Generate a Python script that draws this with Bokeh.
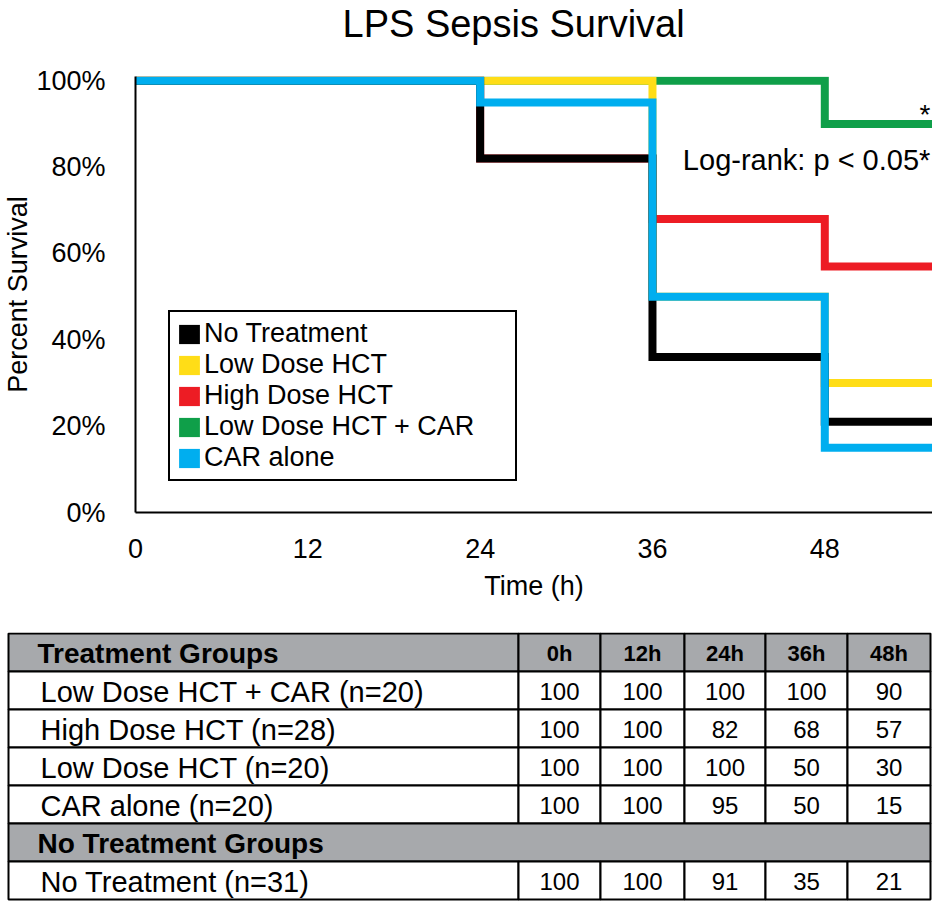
from bokeh.plotting import figure
from bokeh.models import (Legend, LegendItem, Label, PrintfTickFormatter, FixedTicker,
                          ColumnDataSource, Range1d, Title)
from bokeh.layouts import column
from bokeh.embed import file_html
from bokeh.resources import INLINE
from bokeh.core.properties import value

FONT = "Liberation Sans"

# ---------------- data ----------------
title_text = "LPS Sepsis Survival"
times = [0, 24, 36, 48, 55.5]
no_treatment = [100, 82, 36, 21, 21]
low_dose_hct = [100, 100, 50, 30, 30]
high_dose_hct = [100, 82, 68, 57, 57]
low_dose_hct_car = [100, 100, 100, 90, 90]
car_alone = [100, 95, 50, 15, 15]

legend_names = ["No Treatment", "Low Dose HCT", "High Dose HCT", "Low Dose HCT + CAR", "CAR alone"]
legend_colors = ["#000000", "#FFDD17", "#ED1C24", "#0F9F49", "#00AEEF"]

x_ticks = [0, 12, 24, 36, 48]
y_ticks = [0, 20, 40, 60, 80, 100]

table_hours = ["0h", "12h", "24h", "36h", "48h"]
treat_header = "Treatment Groups"
treat_groups = ["Low Dose HCT + CAR (n=20)", "High Dose HCT (n=28)",
                "Low Dose HCT (n=20)", "CAR alone (n=20)"]
treat_values = [[100, 100, 100, 100, 90],
                [100, 100, 82, 68, 57],
                [100, 100, 100, 50, 30],
                [100, 100, 95, 50, 15]]
untreated_header = "No Treatment Groups"
untreated_groups = ["No Treatment (n=31)"]
untreated_values = [[100, 100, 91, 35, 21]]

# ---------------- survival chart ----------------
p = figure(width=932, height=632, x_range=Range1d(0, 55.5), y_range=Range1d(0, 101),
           output_backend="svg", toolbar_location=None, frame_align=False,
           min_border_left=134, min_border_right=0, min_border_top=75, min_border_bottom=120)
p.outline_line_color = None
p.xgrid.visible = False
p.ygrid.visible = False

# main title (outermost) plus a blank spacer title between it and the frame
p.title.text = title_text
p.title.text_font = FONT
p.title.text_font_size = "38px"
p.title.text_font_style = "normal"
p.title.text_color = "#000000"
p.title.align = "left"
p.title.offset = 207
p.title.standoff = 0
p.add_layout(Title(text=" ", text_font=FONT, text_font_size="18px", standoff=10), "above")

series = dict(zip(legend_names, [no_treatment, low_dose_hct, high_dose_hct, low_dose_hct_car, car_alone]))
color_of = dict(zip(legend_names, legend_colors))
draw_order = ["High Dose HCT", "Low Dose HCT + CAR", "Low Dose HCT", "No Treatment", "CAR alone"]
for name in draw_order:
    p.step(times, series[name], mode="after", line_color=color_of[name], line_width=8,
           line_join="miter", line_cap="butt")

for ax in (p.xaxis[0], p.yaxis[0]):
    ax.axis_line_width = 2
    ax.axis_line_color = "#000000"
    ax.major_tick_line_color = None
    ax.minor_tick_line_color = None
    ax.major_label_text_font = FONT
    ax.major_label_text_font_size = "27px"
    ax.major_label_text_color = "#000000"
    ax.axis_label_text_font = FONT
    ax.axis_label_text_font_size = "27px"
    ax.axis_label_text_font_style = "normal"
    ax.axis_label_text_color = "#000000"

p.xaxis.ticker = FixedTicker(ticks=x_ticks)
p.yaxis.ticker = FixedTicker(ticks=y_ticks)
p.yaxis.formatter = PrintfTickFormatter(format="%d%%")
p.xaxis.axis_label = "Time (h)"
p.yaxis.axis_label = "Percent Survival"
p.xaxis.major_label_standoff = 20
p.xaxis.axis_label_standoff = 10
p.yaxis.major_label_standoff = 24
p.yaxis.axis_label_standoff = 0

# legend with square swatches (zero-size proxy quads)
items = []
for name in legend_names:
    r = p.quad(left=[0], right=[0], top=[0], bottom=[0], fill_color=color_of[name], line_color=None)
    items.append(LegendItem(label=name, renderers=[r]))
legend = Legend(items=items, location=(33, 31), glyph_width=26, glyph_height=24,
                label_standoff=2, spacing=0, padding=6, label_height=24, label_width=305,
                label_text_font=FONT, label_text_font_size="27px", label_text_color="#000000",
                border_line_color="#000000", border_line_width=2, border_line_alpha=1.0,
                background_fill_alpha=1.0, margin=0)
p.add_layout(legend, "center")

p.add_layout(Label(x=55.35, y=81.7, text="Log-rank: p < 0.05*", text_align="right",
                   text_baseline="alphabetic", text_font=FONT, text_font_size="29px",
                   text_color="#000000"))
p.add_layout(Label(x=55.35, y=92.2, text="*", text_align="right",
                   text_baseline="alphabetic", text_font=FONT, text_font_size="28px",
                   text_color="#000000"))

# ---------------- table ----------------
TW, TH = 932, 269
t = figure(width=TW, height=TH, x_range=Range1d(0, TW), y_range=Range1d(TH, 0),
           output_backend="svg", toolbar_location=None, x_axis_type=None, y_axis_type=None,
           min_border=0, frame_align=False)
t.outline_line_color = None
t.xgrid.visible = False
t.ygrid.visible = False

col_edges = [8, 518, 600, 684, 765, 847, 930]
row_h = 38
row_top = 1
GRAY = "#A7A9AC"

n_rows = 1 + len(treat_groups) + 1 + len(untreated_groups)
row_kind = ["head"] + ["data"] * len(treat_groups) + ["section"] + ["data"] * len(untreated_groups)
row_first = [treat_header] + treat_groups + [untreated_header] + untreated_groups
row_vals = [table_hours] + treat_values + [None] + untreated_values

cell = dict(left=[], right=[], top=[], bottom=[], fill=[])
txt_first = dict(x=[], y=[], text=[])
txt_head_first = dict(x=[], y=[], text=[])
txt_hours = dict(x=[], y=[], text=[])
txt_nums = dict(x=[], y=[], text=[])

for i in range(n_rows):
    top = row_top + i * row_h
    bot = top + row_h
    ymid = (top + bot) / 2 + 1
    kind = row_kind[i]
    fill = GRAY if kind in ("head", "section") else "#FFFFFF"
    if kind == "section":
        cell["left"].append(col_edges[0]); cell["right"].append(col_edges[-1])
        cell["top"].append(top); cell["bottom"].append(bot); cell["fill"].append(fill)
        txt_head_first["x"].append(col_edges[0] + 29); txt_head_first["y"].append(ymid)
        txt_head_first["text"].append(row_first[i])
        continue
    for c in range(len(col_edges) - 1):
        cell["left"].append(col_edges[c]); cell["right"].append(col_edges[c + 1])
        cell["top"].append(top); cell["bottom"].append(bot); cell["fill"].append(fill)
    if kind == "head":
        txt_head_first["x"].append(col_edges[0] + 29); txt_head_first["y"].append(ymid)
        txt_head_first["text"].append(row_first[i])
        for c, h in enumerate(row_vals[i]):
            txt_hours["x"].append((col_edges[c + 1] + col_edges[c + 2]) / 2)
            txt_hours["y"].append(ymid); txt_hours["text"].append(h)
    else:
        txt_first["x"].append(col_edges[0] + 32); txt_first["y"].append(ymid)
        txt_first["text"].append(row_first[i])
        for c, v in enumerate(row_vals[i]):
            txt_nums["x"].append((col_edges[c + 1] + col_edges[c + 2]) / 2)
            txt_nums["y"].append(ymid); txt_nums["text"].append(str(v))

t.quad(left="left", right="right", top="top", bottom="bottom", fill_color="fill",
       line_color="#000000", line_width=2, source=ColumnDataSource(cell))
t.text(x="x", y="y", text="text", source=ColumnDataSource(txt_first), text_font=value(FONT),
       text_font_size="29px", text_baseline="middle", text_align="left", text_color="#000000")
t.text(x="x", y="y", text="text", source=ColumnDataSource(txt_head_first), text_font=value(FONT),
       text_font_size="28px", text_font_style="bold", text_baseline="middle", text_align="left",
       text_color="#000000")
t.text(x="x", y="y", text="text", source=ColumnDataSource(txt_hours), text_font=value(FONT),
       text_font_size="22px", text_font_style="bold", text_baseline="middle", text_align="center",
       text_color="#000000")
t.text(x="x", y="y", text="text", source=ColumnDataSource(txt_nums), text_font=value(FONT),
       text_font_size="24px", text_baseline="middle", text_align="center", text_color="#000000")

layout = column(p, t, spacing=0)
open("out.html", "w").write(file_html(layout, INLINE))
